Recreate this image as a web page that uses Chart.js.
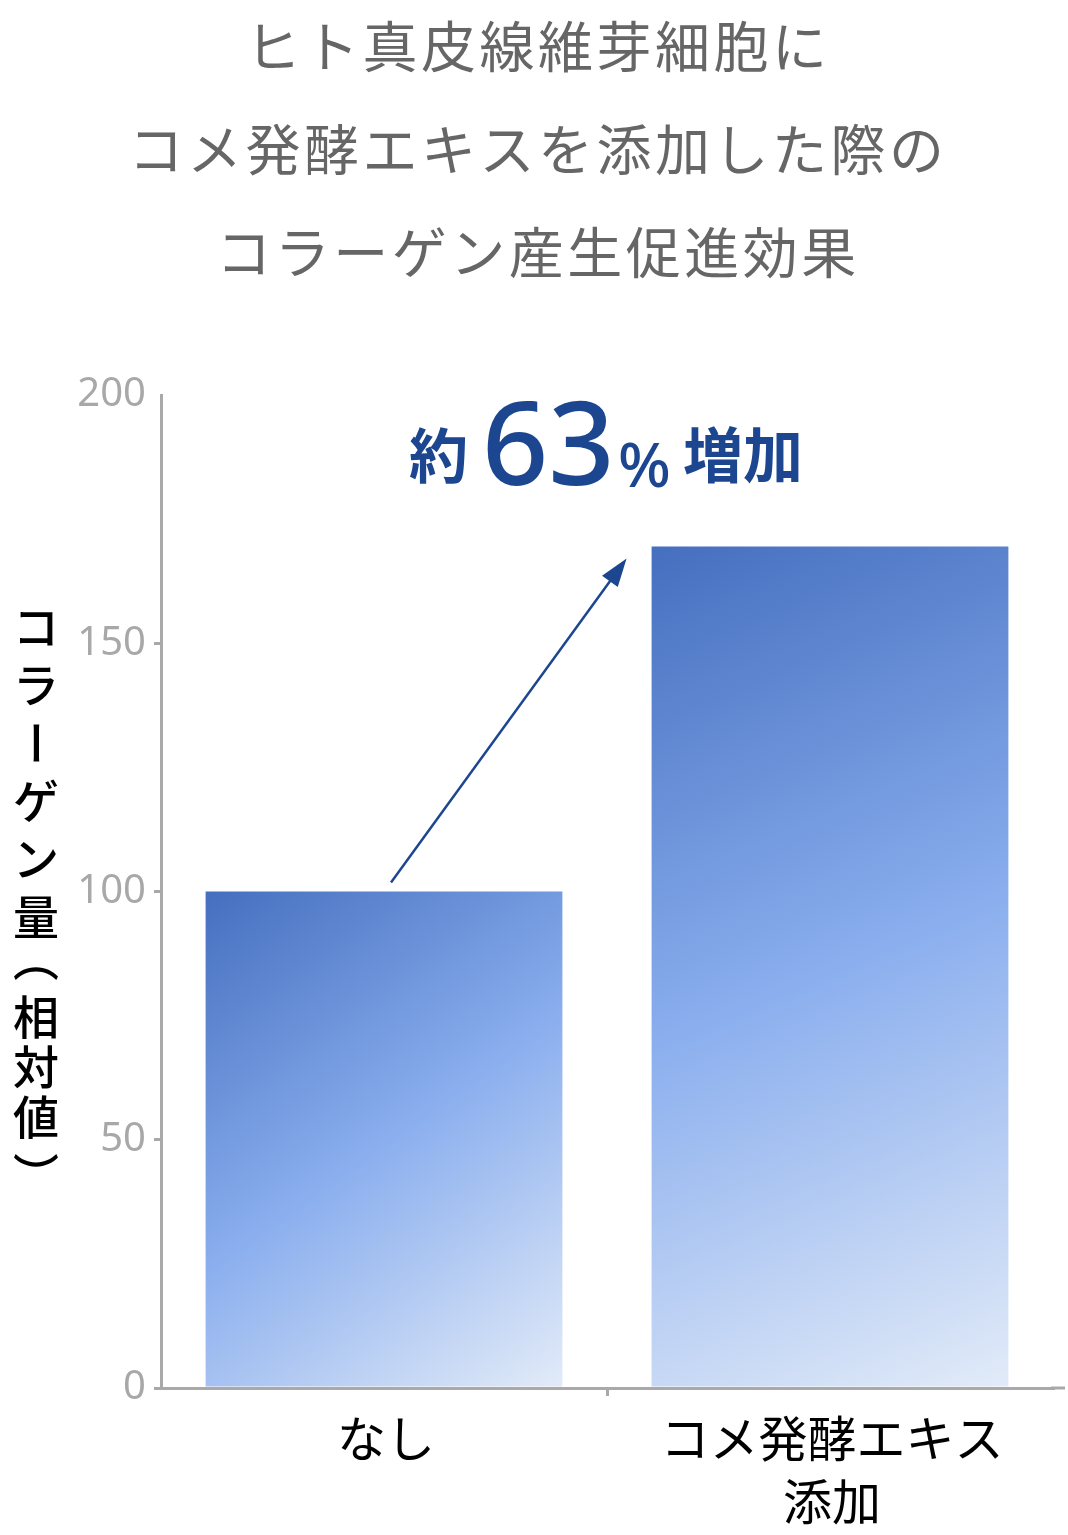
<!DOCTYPE html>
<html lang="ja">
<head>
    <meta charset="UTF-8">
    <title>コラーゲン産生促進効果</title>
    <script src="https://cdn.jsdelivr.net/npm/chart.js"></script>
    <style>
        body {
            margin: 0;
            background-color: #ffffff;
        }
        #wrap {
            position: relative;
            width: 1068px;
            height: 1535px;
        }
    </style>
</head>
<body>
    <div id="wrap"><canvas id="graph"></canvas></div>

    <script>
        // chart data
        const categories = ['なし', ['コメ発酵エキス', '添加']];
        const collagen = [100, 169.5];
        const yTicks = [0, 50, 100, 150, 200];
        const titleLines = ['ヒト真皮線維芽細胞に', 'コメ発酵エキスを添加した際の', 'コラーゲン産生促進効果'];
        const yTitle = ['コ', 'ラ', 'ー', 'ゲ', 'ン', '量', '（', '相', '対', '値', '）'];
        const calloutParts = ['約', '63', '%', '増加'];

        const JP = '"Noto Sans CJK JP", "Noto Sans", sans-serif';
        const BLUE = '#1d4690';
        const AXIS = '#a9a9a9';

        // gradient for each bar: dark top-left to pale bottom-right
        function barGradient(ctx) {
            const chart = ctx.chart;
            const xs = chart.scales.x, ys = chart.scales.y;
            const i = ctx.dataIndex;
            if (!xs || !ys || i === undefined) return '#7aa0e4';
            const cx = xs.getPixelForValue(i);
            const half = xs.width / categories.length * 0.8 / 2;
            const top = ys.getPixelForValue(collagen[i]);
            const base = ys.getPixelForValue(0);
            if (![cx, half, top, base].every(Number.isFinite) || half <= 0) return '#7aa0e4';
            const g = chart.ctx.createLinearGradient(cx - half, top, cx + half, base);
            g.addColorStop(0, '#456fbf');
            g.addColorStop(0.5, '#8aaeee');
            g.addColorStop(1, '#e2ebf8');
            return g;
        }

        const decorations = {
            id: 'decorations',
            afterDraw(chart) {
                const c = chart.ctx;
                const area = chart.chartArea;
                const xs = chart.scales.x, ys = chart.scales.y;
                c.save();

                // title
                c.fillStyle = '#666666';
                c.font = '400 55px ' + JP;
                c.letterSpacing = '3.5px';
                c.textAlign = 'center';
                c.textBaseline = 'middle';
                titleLines.forEach((t, k) => c.fillText(t, 538, 46 + k * 103));
                c.letterSpacing = '0px';

                // x axis runs a little past the plot
                c.strokeStyle = AXIS;
                c.lineWidth = 3;
                c.beginPath();
                c.moveTo(area.right - 2, area.bottom);
                c.lineTo(area.right + 12, area.bottom);
                c.stroke();

                // vertical y-axis title, upright characters
                c.fillStyle = '#000000';
                c.font = '500 46px ' + JP;
                c.textAlign = 'center';
                c.textBaseline = 'middle';
                let y = 627;
                yTitle.forEach((ch, k) => {
                    const turn = ch === 'ー' || ch === '（' || ch === '）';
                    let dy = 0;
                    if (ch === '（') dy = -8;
                    if (ch === '）') dy = 8;
                    if (turn) {
                        c.save();
                        c.translate(36, y + dy);
                        c.rotate(Math.PI / 2);
                        c.fillText(ch, 0, 0);
                        c.restore();
                    } else {
                        c.fillText(ch, 36, y);
                    }
                    y += k < 5 ? 58 : 50;
                });

                // arrow from bar 1 to bar 2
                const x0 = xs.getPixelForValue(0) + 7;
                const y0 = ys.getPixelForValue(collagen[0]) - 9;
                const half = xs.width / categories.length * 0.8 / 2;
                const x1 = xs.getPixelForValue(1) - half - 25;
                const y1 = ys.getPixelForValue(collagen[1]) + 12;
                const ang = Math.atan2(y1 - y0, x1 - x0);
                const head = 30;
                c.strokeStyle = BLUE;
                c.fillStyle = BLUE;
                c.lineWidth = 2.5;
                c.beginPath();
                c.moveTo(x0, y0);
                c.lineTo(x1 - Math.cos(ang) * head * 0.8, y1 - Math.sin(ang) * head * 0.8);
                c.stroke();
                c.beginPath();
                c.moveTo(x1, y1);
                c.lineTo(x1 - head * Math.cos(ang - 0.33), y1 - head * Math.sin(ang - 0.33));
                c.lineTo(x1 - head * Math.cos(ang + 0.33), y1 - head * Math.sin(ang + 0.33));
                c.closePath();
                c.fill();

                // callout "約63%増加"
                c.textAlign = 'left';
                c.textBaseline = 'alphabetic';
                c.font = '700 59px ' + JP;
                c.fillText(calloutParts[0], 409, 478);
                c.font = '500 116px "Noto Sans", sans-serif';
                c.fillText(calloutParts[1], 482, 485);
                c.font = '500 62px "Noto Sans", sans-serif';
                c.fillText(calloutParts[2], 618, 487);
                c.font = '700 60px ' + JP;
                c.fillText(calloutParts[3], 683, 478);

                c.restore();
            }
        };

        new Chart(document.getElementById('graph'), {
            type: 'bar',
            data: {
                labels: categories,
                datasets: [{
                    data: collagen,
                    backgroundColor: barGradient,
                    borderWidth: 0,
                    barPercentage: 0.8,
                    categoryPercentage: 1.0
                }]
            },
            options: {
                responsive: true,
                maintainAspectRatio: false,
                animation: false,
                layout: { padding: { left: 0, top: 395, right: 15, bottom: 0 } },
                plugins: {
                    legend: { display: false },
                    tooltip: { enabled: false }
                },
                scales: {
                    x: {
                        afterFit: s => { s.height = 147; },
                        border: { color: AXIS, width: 3 },
                        grid: {
                            drawOnChartArea: false,
                            tickLength: 8,
                            lineWidth: 3,
                            color: ctx => ctx.index === 1 ? AXIS : 'rgba(0,0,0,0)'
                        },
                        ticks: {
                            color: '#000000',
                            padding: 11,
                            labelOffset: 2,
                            font: { family: JP, size: 49, lineHeight: 1.29 }
                        }
                    },
                    y: {
                        min: 0,
                        max: 200,
                        afterFit: s => { s.width = 161; },
                        afterBuildTicks: s => { s.ticks = yTicks.map(v => ({ value: v })); },
                        border: { color: AXIS, width: 3 },
                        grid: {
                            drawOnChartArea: false,
                            tickLength: 7,
                            lineWidth: 3,
                            color: ctx => ctx.tick && ctx.tick.value === 200 ? 'rgba(0,0,0,0)' : AXIS
                        },
                        ticks: {
                            color: '#a8a8a8',
                            padding: 8,
                            font: { family: '"Noto Sans", sans-serif', size: 40 }
                        }
                    }
                }
            },
            plugins: [decorations]
        });
    </script>
</body>
</html>
